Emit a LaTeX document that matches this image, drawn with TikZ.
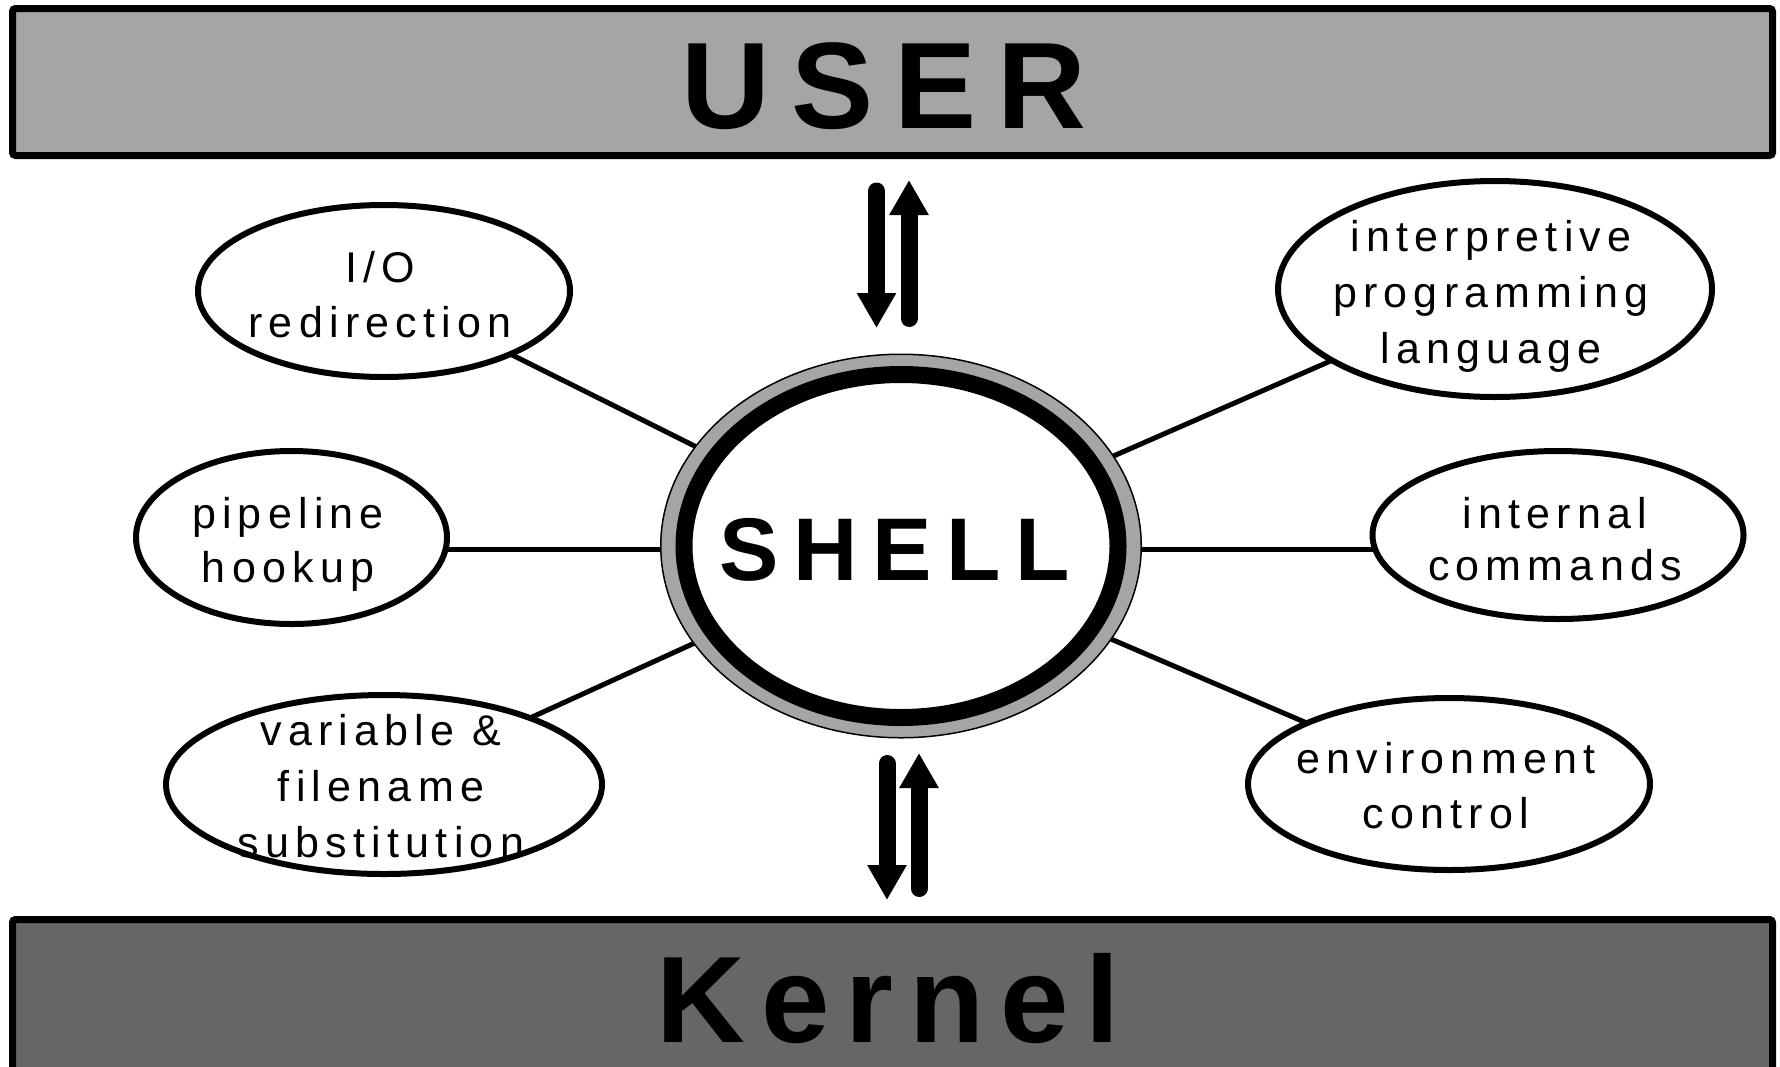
\documentclass[tikz,border=0pt]{standalone}
\usepackage{fontspec}
\setmainfont{Liberation Sans}
\newfontfamily\lblfont[LetterSpace=14.5]{Liberation Sans}
\newfontfamily\userfont[LetterSpace=17]{Liberation Sans}
\newfontfamily\kernelfont[LetterSpace=13]{Liberation Sans}
\newfontfamily\shellfont[LetterSpace=16.5]{Liberation Sans}
\usetikzlibrary{shapes.geometric,arrows.meta,backgrounds}
\definecolor{lightbar}{HTML}{A5A5A5}
\definecolor{darkbar}{HTML}{666666}
\begin{document}
\begin{tikzpicture}[x=1pt,y=-1pt,
  bar/.style={draw=black, line width=7pt, rounded corners=3pt, inner sep=0pt},
  bubble/.style={ellipse, draw=black, line width=6pt, fill=white, inner sep=0pt},
  lbl/.style={anchor=base, inner sep=0pt, align=center, font=\lblfont\fontsize{43}{#1}\selectfont},
  lbl/.default=55,
  head/.style={anchor=base, inner sep=0pt},
  link/.style={draw=black, line width=5pt},
  flow/.style={line width=17pt, line cap=round, -{Triangle[length=35pt,width=37pt]}}
]
\useasboundingbox (0,0) rectangle (1780,1066);

% bars
\node[bar, fill=lightbar, minimum width=1760pt, minimum height=147pt] (userbar) at (892.5,82) {};
\node[head, font=\userfont\bfseries\fontsize{123}{130}\selectfont] (user) at (884,128) {USER};
\node[bar, fill=darkbar, minimum width=1760pt, minimum height=170pt] (kernelbar) at (892.5,1004.5) {};
\node[head, font=\kernelfont\bfseries\fontsize{123}{130}\selectfont] (kernel) at (888,1042) {Kernel};

% shell
\node[ellipse, draw=black, line width=1.5pt, fill=lightbar, minimum width=480.5pt, minimum height=383.5pt, inner sep=0pt] (shell) at (901,546) {};
\draw[line width=17pt, fill=white] (shell.center) ellipse [x radius=217pt, y radius=171.5pt];
\node[head, font=\shellfont\bfseries\fontsize{89}{100}\selectfont] (shelltxt) at (895,580) {SHELL};
\coordinate (hub) at (901,549);

% bubbles
\node[bubble, minimum width=372pt, minimum height=172pt] (io) at (384,291) {};
\node[bubble, minimum width=311pt, minimum height=173pt] (pipe) at (291.5,537.5) {};
\node[bubble, minimum width=436pt, minimum height=179pt] (var) at (384,784.5) {};
\node[bubble, minimum width=434pt, minimum height=216pt] (interp) at (1495,289) {};
\node[bubble, minimum width=371pt, minimum height=168pt] (internal) at (1558,535) {};
\node[bubble, minimum width=402pt, minimum height=172pt] (env) at (1449,784) {};

\node[lbl=55] (iot) at (380,337) {I/O\\redirection};
\node[lbl=54] (pipet) at (288,582) {pipeline\\hookup};
\node[lbl=56] (vart) at (381,857) {variable \&\\filename\\substitution};
\node[lbl=56] (interpt) at (1491,363) {interpretive\\programming\\language};
\node[lbl=52] (internalt) at (1555,580) {internal\\commands};
\node[lbl=55] (envt) at (1446,828) {environment\\control};

% connectors
\begin{scope}[on background layer]
\fill[white] (0,0) rectangle (1780,1066);
\draw[link] (hub) -- (io.center);
\draw[link] (hub) -- (hub -| pipe.center);
\draw[link] (hub) -- (var.center);
\draw[link] (hub) -- (interp.center);
\draw[link] (hub) -- (hub -| internal.center);
\draw[link] (hub) -- (env.center);
\end{scope}

% arrows
\coordinate (d1s) at (876.5,191); \coordinate (d1e) at (876.5,328);
\coordinate (u1s) at (909,318.5); \coordinate (u1e) at (909,180);
\coordinate (d2s) at (887,763.5); \coordinate (d2e) at (887,900);
\coordinate (u2s) at (919,888.5); \coordinate (u2e) at (919,753);
\draw[flow] (d1s) -- (d1e);
\draw[flow] (u1s) -- (u1e);
\draw[flow] (d2s) -- (d2e);
\draw[flow] (u2s) -- (u2e);
\end{tikzpicture}
\end{document}
